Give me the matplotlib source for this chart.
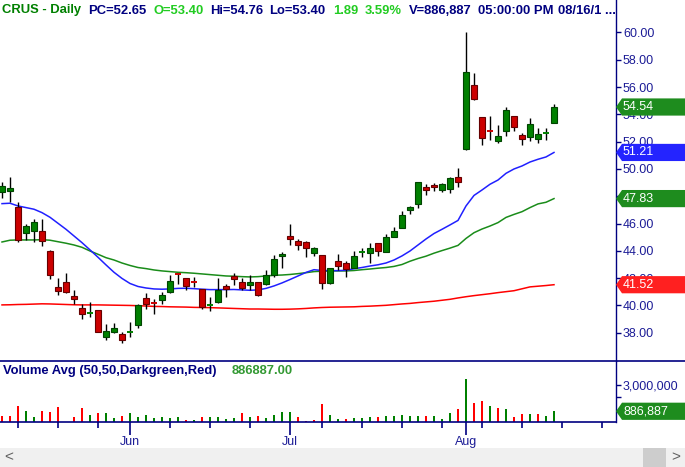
import matplotlib
matplotlib.use("Agg")
import matplotlib.pyplot as plt
from matplotlib.patches import Rectangle, Polygon
from matplotlib.transforms import blended_transform_factory

plt.rcParams['font.family'] = ['Liberation Sans', 'DejaVu Sans']

# daily OHLC (trading day index 0..69)
opens = [48.29, 48.41, 47.19, 45.29, 45.44, 45.46, 43.99, 41.36, 41.70, 40.70,
         39.79, 39.40, 39.65, 37.67, 38.08, 37.89, 38.00, 38.55, 40.53, 40.26,
         40.43, 40.97, 42.31, 41.99, 41.79, 41.19, 39.98, 40.23, 41.41, 42.14,
         41.72, 41.48, 41.72, 41.55, 42.21, 43.60, 45.09, 44.70, 44.63, 43.87,
         43.68, 41.63, 43.24, 43.09, 42.77, 43.90, 43.87, 44.56, 43.90, 45.00,
         45.66, 46.97, 47.44, 48.66, 48.83, 48.48, 48.56, 49.39, 51.44, 56.13,
         53.79, 52.80, 52.07, 52.81, 53.86, 52.47, 52.37, 52.18, 52.60, 53.40]
highs = [49.07, 49.44, 47.56, 45.97, 46.32, 46.32, 44.07, 42.01, 42.36, 41.14,
         40.11, 40.26, 39.70, 38.64, 38.70, 38.04, 38.77, 40.11, 40.89, 40.45,
         41.01, 42.21, 42.40, 42.00, 42.07, 41.20, 40.62, 41.99, 41.58, 42.36,
         42.04, 42.23, 41.75, 42.60, 43.70, 43.92, 45.97, 44.85, 44.70, 44.26,
         43.70, 42.75, 43.77, 43.26, 43.99, 44.19, 44.56, 44.60, 45.24, 45.75,
         46.95, 47.29, 49.05, 48.90, 48.95, 48.95, 49.44, 50.05, 60.01, 57.01,
         53.83, 53.88, 53.20, 54.52, 53.90, 52.62, 53.74, 53.00, 53.00, 54.76]
lows = [47.85, 47.60, 44.67, 44.80, 44.67, 44.38, 41.96, 40.79, 40.94, 40.11,
        38.99, 39.18, 38.05, 37.45, 37.96, 37.27, 37.71, 38.37, 39.77, 39.38,
        40.11, 40.89, 41.58, 41.14, 41.38, 39.74, 39.62, 40.20, 40.64, 41.48,
        41.14, 41.14, 40.70, 41.48, 42.07, 42.77, 44.45, 44.07, 43.58, 43.65,
        41.21, 41.60, 42.60, 42.11, 42.75, 43.58, 43.14, 43.65, 43.88, 44.98,
        45.64, 46.68, 47.12, 48.07, 48.41, 48.34, 48.22, 48.70, 51.40, 55.05,
        51.78, 52.12, 51.93, 52.42, 52.81, 51.78, 52.07, 51.93, 52.12, 53.40]
closes = [48.75, 48.61, 44.80, 45.82, 46.10, 44.70, 42.21, 41.04, 41.01, 40.45,
          39.40, 39.45, 38.08, 38.11, 38.33, 37.45, 38.06, 40.01, 40.13, 40.21,
          40.75, 41.77, 42.27, 41.45, 41.75, 39.91, 40.03, 41.11, 41.23, 41.96,
          41.30, 41.72, 40.79, 42.21, 43.38, 43.77, 44.89, 44.41, 44.23, 44.19,
          41.63, 42.73, 42.92, 42.70, 43.60, 43.94, 44.19, 43.97, 45.00, 45.46,
          46.63, 47.22, 49.03, 48.44, 48.66, 48.88, 49.32, 49.07, 57.08, 55.15,
          52.25, 52.76, 52.40, 54.32, 53.10, 52.22, 53.27, 52.54, 52.65, 54.54]
volumes = [507e3, 507e3, 1343e3, 909e3, 426e3, 909e3, 828e3, 1230e3, 0, 426e3,
           1150e3, 587e3, 748e3, 748e3, 346e3, 507e3, 748e3, 426e3, 587e3, 346e3,
           426e3, 346e3, 426e3, 185e3, 185e3, 426e3, 426e3, 426e3, 265e3, 346e3,
           748e3, 426e3, 507e3, 346e3, 587e3, 828e3, 828e3, 426e3, 120e3, 185e3,
           1503e3, 587e3, 265e3, 265e3, 346e3, 346e3, 426e3, 426e3, 507e3, 507e3,
           587e3, 507e3, 507e3, 507e3, 507e3, 265e3, 748e3, 1069e3, 3481e3, 1552e3,
           1713e3, 1311e3, 1150e3, 1069e3, 426e3, 667e3, 667e3, 667e3, 507e3, 886887]

# moving averages
ma_blue = [47.46, 47.49, 47.29, 47.17, 47.05, 46.80, 46.46, 46.02, 45.58, 45.09,
           44.60, 44.07, 43.53, 42.97, 42.43, 41.98, 41.61, 41.39, 41.28, 41.21,
           41.19, 41.21, 41.25, 41.26, 41.23, 41.19, 41.16, 41.16, 41.16, 41.17,
           41.14, 41.11, 41.14, 41.25, 41.43, 41.65, 41.90, 42.16, 42.42, 42.62,
           42.56, 42.55, 42.55, 42.58, 42.69, 42.78, 42.89, 42.98, 43.11, 43.33,
           43.63, 43.99, 44.43, 44.87, 45.27, 45.58, 45.90, 46.23, 47.29, 48.06,
           48.46, 48.88, 49.19, 49.68, 50.00, 50.22, 50.51, 50.71, 50.88, 51.21]
ma_green = [44.65, 44.78, 44.80, 44.80, 44.80, 44.82, 44.78, 44.67, 44.56, 44.43,
            44.26, 43.99, 43.75, 43.50, 43.33, 43.11, 42.93, 42.78, 42.70, 42.60,
            42.53, 42.48, 42.43, 42.40, 42.36, 42.31, 42.26, 42.21, 42.16, 42.14,
            42.11, 42.09, 42.11, 42.16, 42.21, 42.23, 42.27, 42.33, 42.40, 42.48,
            42.51, 42.53, 42.53, 42.53, 42.56, 42.62, 42.67, 42.73, 42.78, 42.86,
            43.00, 43.24, 43.44, 43.61, 43.83, 44.02, 44.20, 44.40, 44.91, 45.33,
            45.60, 45.82, 46.07, 46.45, 46.67, 46.87, 47.17, 47.44, 47.56, 47.83]
ma_red = [40.04, 40.05, 40.07, 40.08, 40.10, 40.12, 40.11, 40.09, 40.07, 40.05,
          40.04, 40.04, 40.04, 40.03, 40.02, 40.01, 40.00, 39.98, 39.96, 39.93,
          39.92, 39.90, 39.89, 39.88, 39.86, 39.85, 39.84, 39.82, 39.80, 39.78,
          39.76, 39.74, 39.74, 39.73, 39.72, 39.72, 39.73, 39.75, 39.78, 39.82,
          39.85, 39.87, 39.88, 39.89, 39.90, 39.93, 39.95, 39.98, 40.01, 40.06,
          40.11, 40.15, 40.21, 40.26, 40.31, 40.38, 40.45, 40.55, 40.64, 40.72,
          40.79, 40.86, 40.94, 41.01, 41.08, 41.22, 41.36, 41.41, 41.46, 41.52]

week_ticks = [2, 7, 12, 21, 26, 31, 40, 45, 50, 55, 60, 65, 70, 75]
month_ticks = [16, 36, 58]
month_labels = ["Jun", "Jul", "Aug"]
price_ticks = [38, 40, 42, 44, 46, 48, 50, 52, 54, 56, 58, 60]

NAVY = '#000080'
LBL = '#1c1c96'
W, H = 685, 467

fig = plt.figure(figsize=(6.85, 4.67), dpi=100)
ax = fig.add_axes([0, 1 - 361 / H, 616 / W, 361 / H])
axv = fig.add_axes([0, 1 - 422.3 / H, 616 / W, 61.3 / H])

n = len(closes)
xs = list(range(n))
xlim = (-0.25, 76.75)

# moving averages behind the candles
ax.plot(xs, ma_red, color='#ff0000', lw=1.1, zorder=1)
ax.plot(xs, ma_green, color='#1a8c1a', lw=1.1, zorder=1)
ax.plot(xs, ma_blue, color='#2020ff', lw=1.1, zorder=1)

for i in xs:
    o, h, l, c = opens[i], highs[i], lows[i], closes[i]
    up = c >= o
    ax.vlines(i, l, h, color='black', lw=1.0, zorder=2)
    if abs(c - o) < 0.1:
        ax.hlines(c, i - 0.4, i + 0.4, color='#008000' if up else '#cc0000', lw=1.4, zorder=3)
    else:
        ax.add_patch(Rectangle((i - 0.38, min(o, c)), 0.76, abs(c - o),
                               fc='#008000' if up else '#cc0000',
                               ec='#004400' if up else '#660000', lw=0.8, zorder=3))

ax.set_xlim(*xlim)
ax.set_ylim(35.93, 62.38)
for s in ['top', 'left', 'bottom']:
    ax.spines[s].set_visible(False)
ax.spines['right'].set_color(NAVY)
ax.spines['right'].set_linewidth(1.0)
ax.set_xticks([])
ax.yaxis.tick_right()
ax.set_yticks(price_ticks)
ax.set_yticklabels(["%.2f" % v for v in price_ticks])
ax.tick_params(axis='y', colors=NAVY, labelcolor=LBL, length=3.5, width=1, pad=1.5, labelsize=9)

# value tags on the price axis
blend = blended_transform_factory(ax.transAxes, ax.transData)
px = 1 / 616
tags = [(closes[-1], '#1e8c1e'), (ma_blue[-1], '#2424ff'),
        (ma_green[-1], '#1e8c1e'), (ma_red[-1], '#ff2020')]
for val, col in tags:
    hh = 8.6 / 13.65
    ax.add_patch(Polygon([(1, val), (1 + 6 * px, val + hh), (1 + 70 * px, val + hh),
                          (1 + 70 * px, val - hh), (1 + 6 * px, val - hh)],
                         closed=True, fc=col, ec='none', transform=blend,
                         clip_on=False, zorder=10))
    ax.text(1 + 7 * px, val, "%.2f" % val, transform=blend, color='white',
            fontsize=9, va='center', ha='left', clip_on=False, zorder=11)

# volume panel
vcols = ['#ff0000'] + ['#008000' if closes[i] >= closes[i - 1] else '#ff0000' for i in range(1, n)]
axv.bar(xs, volumes, width=0.28, color=vcols, zorder=2)
axv.set_xlim(*xlim)
axv.set_ylim(0, 4.93e6)
axv.spines['top'].set_visible(False)
axv.spines['left'].set_visible(False)
axv.spines['right'].set_color(NAVY)
axv.spines['bottom'].set_color(NAVY)
axv.spines['right'].set_linewidth(1.0)
axv.spines['bottom'].set_linewidth(1.2)
axv.yaxis.tick_right()
axv.set_yticks([2e6, 3e6])
axv.set_yticklabels(['', '3,000,000'])
axv.tick_params(axis='y', colors=NAVY, labelcolor=LBL, length=3.5, width=1, pad=1.5, labelsize=9)
axv.set_xticks(month_ticks)
axv.set_xticklabels(month_labels)
axv.set_xticks(week_ticks, minor=True)
axv.tick_params(axis='x', which='major', colors=NAVY, labelcolor=LBL, length=9, width=1.2,
                pad=1, labelsize=9)
axv.tick_params(axis='x', which='minor', colors=NAVY, length=4.5, width=1.2)

vblend = blended_transform_factory(axv.transAxes, axv.transData)
vh = 8.6 / 12.43 * 1e6
vv = volumes[-1]
axv.add_patch(Polygon([(1, vv), (1 + 6 * px, vv + vh), (1 + 70 * px, vv + vh),
                       (1 + 70 * px, vv - vh), (1 + 6 * px, vv - vh)],
                      closed=True, fc='#1e8c1e', ec='none', transform=vblend,
                      clip_on=False, zorder=10))
axv.text(1 + 7 * px, vv, "{:,}".format(int(vv)), transform=vblend, color='white',
         fontsize=9, va='center', ha='left', clip_on=False, zorder=11)

# divider between panels
fig.add_artist(plt.Line2D([0, 1], [1 - 361 / H, 1 - 361 / H], color=NAVY, lw=1.2,
                          transform=fig.transFigure))

# header
header = [(2, "CRUS - Daily", '#008000'), (88.5, "PC=52.65", NAVY), (153, "O=53.40", '#22cc22'),
          (210, "Hi=54.76", NAVY), (269, "Lo=53.40", NAVY), (333, "1.89", '#22cc22'),
          (365, "3.59%", '#22cc22'), (408.5, "V=886,887", NAVY), (477.5, "05:00:00 PM", NAVY),
          (558, "08/16/1 ...", NAVY)]
for x, s, col in header:
    fig.text(x / W, 1 - 10.5 / H, s, color=col, fontsize=9.4, fontweight='bold',
             ha='left', va='center')

fig.text(3 / W, 1 - 371 / H, "Volume Avg (50,50,Darkgreen,Red)", color=NAVY, fontsize=9.4,
         fontweight='bold', ha='left', va='center')
fig.text(232 / W, 1 - 371 / H, "886887.00", color='#339933', fontsize=9.4,
         fontweight='bold', ha='left', va='center')

# scrollbar
fig.add_artist(Rectangle((0, 0), 1, 19 / H, transform=fig.transFigure, fc='#f0f0f0', ec='none'))
fig.add_artist(Rectangle((643 / W, 0), 23 / W, 19 / H, transform=fig.transFigure,
                         fc='#cdcdcd', ec='none'))
fig.text(9 / W, 9.5 / H, "<", color='#606060', fontsize=11, ha='center', va='center')
fig.text(676 / W, 9.5 / H, ">", color='#606060', fontsize=11, ha='center', va='center')

fig.savefig("out.png", dpi=100)
